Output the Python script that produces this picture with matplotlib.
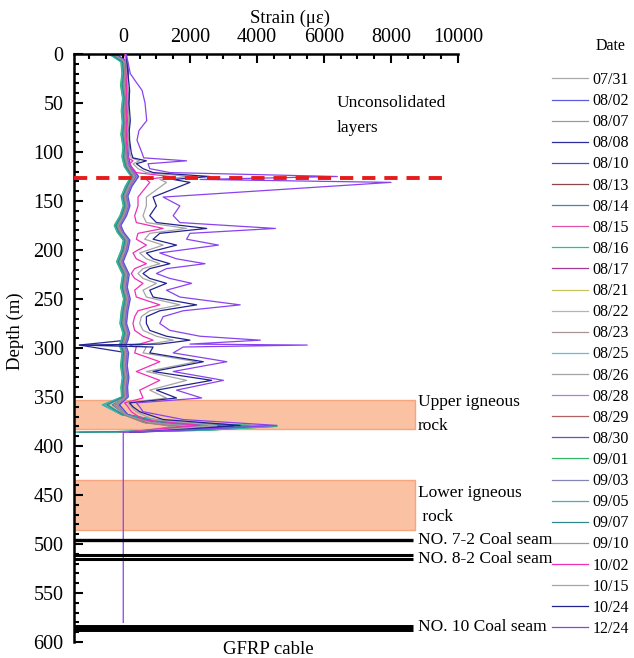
import matplotlib.pyplot as plt
from matplotlib.ticker import MultipleLocator

plt.rcParams['font.family'] = ['Liberation Serif', 'DejaVu Serif']

DATES = ['07/31', '08/02', '08/07', '08/08', '08/10', '08/13', '08/14', '08/15',
         '08/16', '08/17', '08/21', '08/22', '08/23', '08/25', '08/26', '08/28',
         '08/29', '08/30', '09/01', '09/03', '09/05', '09/07', '09/10', '10/02',
         '10/15', '10/24', '12/24']

COLORS = ['#a9a9a9', '#5a5ae6', '#9b9b9b', '#2a2a98', '#4848ee', '#8c4848', '#4f80b0',
          '#e052a8', '#25c878', '#a53898', '#c5c55a', '#b5b5b5', '#a99393', '#5cc0dc',
          '#a3a3a3', '#b57ae8', '#b36060', '#5555d0', '#30b868', '#8585b5', '#40b0c0',
          '#2f8a90', '#999999', '#ee2fb8', '#a5a5a5', '#22228e', '#8a42ee']

# depth grid (m) for the early, small-strain readings
DEPTH_B = [0, 8, 20, 32, 45, 58, 70, 82, 95, 105, 115, 125, 135, 145, 155, 165, 175, 182,
           190, 200, 212, 225, 238, 250, 262, 275, 285, 292, 297, 305, 318, 330, 340, 350,
           358, 368, 376, 380, 384, 386]

S_0731 = [-380, 50, 80, 40, 100, 60, 90, 50, 110, 80, 150, 330, 180, 60, 120, 20, -150, -60, 120, 60, -80, 100, 40, 130, 60, 20, 110, 60, 0, 80, 40, 90, 50, 70, -200, 60, 700, 1600, 900, -200]
S_0802 = [-300, 80, 110, 70, 130, 90, 120, 80, 140, 110, 180, 380, 210, 90, 150, 50, -120, -30, 150, 90, -50, 130, 70, 160, 90, 50, 140, 90, 30, 110, 70, 120, 80, 100, -220, 90, 900, 2200, 1300, 100]
S_0807 = [-250, 10, 40, 0, 60, 20, 50, 10, 70, 40, 110, 300, 140, 20, 80, -20, -190, -100, 80, 20, -120, 60, 0, 90, 20, -20, 70, 20, -40, 40, 0, 50, 10, 30, -280, 20, 600, 1500, 700, 0]
S_0808 = [-200, 110, 140, 100, 160, 120, 150, 110, 170, 140, 210, 450, 240, 120, 180, 80, -90, 0, 180, 120, -20, 160, 100, 190, 120, 80, 170, 120, -1300, 140, 100, 150, 110, 130, -120, 120, 1200, 3000, 1800, 200]
S_0810 = [-320, 90, 120, 80, 140, 100, 130, 90, 150, 120, 190, 400, 220, 100, 160, 60, -110, -20, 160, 100, -40, 140, 80, 170, 100, 60, 150, 100, 40, 120, 80, 130, 90, 110, -200, 100, 1000, 2600, 1500, 150]
S_0813 = [-280, 20, 50, 10, 70, 30, 60, 20, 80, 50, 120, 310, 150, 30, 90, -10, -180, -90, 90, 30, -110, 70, 10, 100, 30, -10, 80, 30, -30, 50, 10, 60, 20, 40, -240, 30, 650, 1700, 800, -100]
S_0814 = [-330, 60, 90, 50, 110, 70, 100, 60, 120, 90, 160, 360, 190, 70, 130, 30, -140, -50, 130, 70, -70, 110, 50, 140, 70, 30, 120, 70, 10, 90, 50, 100, 60, 80, -320, 70, 800, 2000, 1100, -500]
S_0815 = [-260, 70, 100, 60, 120, 80, 110, 70, 130, 100, 170, 370, 200, 80, 140, 40, -130, -40, 140, 80, -60, 120, 60, 150, 80, 40, 130, 80, 20, 100, 60, 110, 70, 90, -180, 80, 850, 2100, 1200, 50]
S_0816 = [-400, -30, 0, -40, 20, -20, 10, -30, 30, 0, 70, 270, 100, -20, 40, -60, -230, -140, 40, -20, -160, 20, -40, 50, -20, -60, 30, -20, -80, 0, -40, 10, -30, -10, -450, -20, 1500, 4600, 2400, -1450]
S_0817 = [-290, 60, 90, 50, 110, 70, 100, 60, 120, 90, 160, 350, 190, 70, 130, 30, -140, -50, 130, 70, -70, 110, 50, 140, 70, 30, 120, 70, 10, 90, 50, 100, 60, 80, -200, 70, 750, 1900, 1000, 0]
S_0821 = [-310, 40, 70, 30, 90, 50, 80, 40, 100, 70, 140, 330, 170, 50, 110, 10, -160, -70, 110, 50, -90, 90, 30, 120, 50, 10, 100, 50, -10, 70, 30, 80, 40, 60, -230, 50, 700, 1800, 900, -100]
S_0822 = [-270, 50, 80, 40, 100, 60, 90, 50, 110, 80, 150, 340, 180, 60, 120, 20, -150, -60, 120, 60, -80, 100, 40, 130, 60, 20, 110, 60, 0, 80, 40, 90, 50, 70, -210, 60, 750, 1900, 1000, 0]
S_0823 = [-240, 0, 30, -10, 50, 10, 40, 0, 60, 30, 100, 290, 130, 10, 70, -30, -200, -110, 70, 10, -130, 50, -10, 80, 10, -30, 60, 10, -50, 30, -10, 40, 0, 20, -260, 10, 650, 1600, 800, -50]
S_0825 = [-420, -50, -20, -60, 0, -40, -10, -50, 10, -20, 50, 250, 80, -40, 20, -80, -250, -160, 20, -40, -180, 0, -60, 30, -40, -80, 10, -40, -100, -20, -60, -10, -50, -30, -550, -40, 1400, 4200, 2200, -1400]
S_0826 = [-300, 30, 60, 20, 80, 40, 70, 30, 90, 60, 130, 320, 160, 40, 100, 0, -170, -80, 100, 40, -100, 80, 20, 110, 40, 0, 90, 40, -20, 60, 20, 70, 30, 50, -220, 40, 700, 1800, 900, -100]
S_0828 = [-220, 120, 150, 110, 170, 130, 160, 120, 180, 150, 220, 430, 250, 130, 190, 90, -80, 10, 190, 130, -10, 170, 110, 200, 130, 90, 180, 130, 70, 150, 110, 160, 120, 140, -150, 130, 1100, 2800, 1600, 150]
S_0829 = [-260, 40, 70, 30, 90, 50, 80, 40, 100, 70, 140, 340, 170, 50, 110, 10, -160, -70, 110, 50, -90, 90, 30, 120, 50, 10, 100, 50, -10, 70, 30, 80, 40, 60, -220, 50, 700, 1800, 900, -100]
S_0830 = [-230, 140, 170, 130, 190, 150, 180, 140, 200, 170, 240, 470, 270, 150, 210, 110, -60, 30, 210, 150, 10, 190, 130, 220, 150, 110, 200, 150, 90, 170, 130, 180, 140, 160, -100, 150, 1300, 3300, 1900, 250]
S_0901 = [-410, -60, -30, -70, -10, -50, -20, -60, 0, -30, 40, 240, 70, -50, 10, -90, -260, -170, 10, -50, -190, -10, -70, 20, -50, -90, 0, -50, -110, -30, -70, -20, -60, -40, -600, -50, 1600, 4500, 2500, -1450]
S_0903 = [-280, 70, 100, 60, 120, 80, 110, 70, 130, 100, 170, 360, 200, 80, 140, 40, -130, -40, 140, 80, -60, 120, 60, 150, 80, 40, 130, 80, 20, 100, 60, 110, 70, 90, -170, 80, 850, 2200, 1200, 50]
S_0905 = [-390, -40, -10, -50, 10, -30, 0, -40, 20, -10, 60, 260, 90, -30, 30, -70, -240, -150, 30, -30, -170, 10, -50, 40, -30, -70, 20, -30, -90, -10, -50, 0, -40, -20, -620, -30, 1450, 4400, 2300, -1400]
S_0907 = [-350, -10, 20, -20, 40, 0, 30, -10, 50, 20, 90, 280, 120, 0, 60, -40, -210, -120, 60, 0, -140, 40, -20, 70, 0, -40, 50, 0, -60, 20, -20, 30, -10, 10, -480, 0, 1200, 3800, 2000, -1300]
S_0910 = [-270, 50, 80, 40, 100, 60, 90, 50, 110, 80, 150, 340, 180, 60, 120, 20, -150, -60, 120, 60, -80, 100, 40, 130, 60, 20, 110, 60, 0, 80, 40, 90, 50, 70, -210, 60, 800, 2000, 1100, 0]

# finer depth grid for the later readings with large peaks
DEPTH_M = [0, 5, 20, 27, 37, 50, 68, 78, 88, 101, 106, 109, 112, 117, 121, 125, 128,
           131, 146, 155, 165, 172, 178, 183, 189, 195, 203, 209, 214, 219, 224, 229,
           234, 241, 248, 256, 262, 268, 275, 282, 288, 292, 296, 297, 299, 305, 314,
           324, 333, 343, 351, 356, 360, 365, 373, 379, 383, 386]

S_1002 = [60, 70, 100, 100, 110, 90, 110, 100, 100, 130, 150, 300, 200, 300, 400,
          1400, 700, 800, 450, 450, 350, 400, 1200, 450, 400, 700, 300, 400, 700, 350,
          250, 350, 600, 350, 400, 1100, 450, 350, 300, 350, 600, 900, 500, 200, 400,
          350, 1100, 400, 1100, 500, 600, 50, 150, 250, 600, 2300, 900, 50]
S_1015 = [80, 90, 130, 140, 150, 150, 170, 150, 160, 200, 250, 500, 300, 450, 700,
          2000, 1100, 1300, 700, 700, 600, 700, 1900, 800, 650, 1200, 500, 700, 1100, 600,
          450, 600, 1000, 600, 700, 1700, 800, 550, 500, 600, 1000, 1500, 800, 300, 700,
          600, 2200, 700, 1900, 800, 1300, 150, 250, 400, 900, 2800, 1400, 100]
S_1024 = [100, 110, 150, 170, 200, 180, 220, 190, 200, 250, 300, 700, 400, 600, 900,
          2600, 1500, 2000, 900, 1000, 800, 1000, 2500, 1100, 900, 1600, 700, 900, 1400, 800,
          600, 800, 1300, 800, 900, 2200, 1100, 700, 700, 800, 1300, 2000, 1100, -1300, 900,
          800, 2400, 900, 2650, 1000, 1600, 200, 300, 500, 1200, 3500, 1800, 200]
# the last reading also runs down the bare cable to 580 m
DEPTH_1224 = DEPTH_M + [580]
S_1224 = [100, 130, 220, 360, 570, 660, 710, 480, 420, 570, 620, 1900, 750, 800, 1400,
          6400, 2300, 8000, 1200, 1700, 1500, 1700, 4550, 2000, 1900, 2850, 1100, 1600, 2450, 1300,
          1000, 1400, 2050, 1300, 1700, 3500, 1800, 1200, 1100, 1400, 2300, 4100, 2000, 5500, 1800,
          1500, 3100, 1500, 3000, 1600, 2350, 400, 500, 600, 1800, 4600, 2300, 10, 10]

BASE_SERIES = [S_0731, S_0802, S_0807, S_0808, S_0810, S_0813, S_0814, S_0815, S_0816,
               S_0817, S_0821, S_0822, S_0823, S_0825, S_0826, S_0828, S_0829, S_0830,
               S_0901, S_0903, S_0905, S_0907, S_0910]

# strata (m)
UPPER_IGNEOUS = (353, 383)
LOWER_IGNEOUS = (435, 486)
SEAM_72 = [496]
SEAM_82 = [511.5, 515.5]
SEAM_10 = [585.5]
FAILURE_DEPTH = 127

XMIN = -1460
FIG_W, FIG_H = 634, 658


def px_x(x):
    return x / FIG_W


def px_y(y):
    return 1 - y / FIG_H


fig = plt.figure(figsize=(FIG_W / 100, FIG_H / 100), dpi=100)
ax = fig.add_axes([px_x(74), px_y(642), (458 - 74) / FIG_W, (642 - 54) / FIG_H])

band_right = 8720
for top, bottom in (UPPER_IGNEOUS, LOWER_IGNEOUS):
    ax.fill_between([XMIN, band_right], top, bottom, facecolor='#fbc1a3',
                    edgecolor='#f6a57f', linewidth=1.0, zorder=1)

for idx, values in enumerate(BASE_SERIES):
    ax.plot(values, DEPTH_B, color=COLORS[idx], linewidth=0.9, label=DATES[idx], zorder=2)
ax.plot(S_1002, DEPTH_M, color=COLORS[23], linewidth=0.9, label=DATES[23], zorder=3)
ax.plot(S_1015, DEPTH_M, color=COLORS[24], linewidth=0.9, label=DATES[24], zorder=3)
ax.plot(S_1024, DEPTH_M, color=COLORS[25], linewidth=0.9, label=DATES[25], zorder=3)
ax.plot(S_1224, DEPTH_1224, color=COLORS[26], linewidth=0.9, label=DATES[26], zorder=3)

ax.plot([XMIN, 9670], [FAILURE_DEPTH] * 2, color='#e61c1c', linewidth=2.8,
        dashes=(3.4, 2.3), zorder=4)

seam_right = 8660
ax.hlines(SEAM_72, XMIN, seam_right, color='black', linewidth=2.4, zorder=4)
ax.hlines(SEAM_82, XMIN, seam_right, color='black', linewidth=2.2, zorder=4)
ax.hlines(SEAM_10, XMIN, seam_right, color='black', linewidth=5.0, zorder=4)

ax.set_xlim(XMIN, 10000)
ax.set_ylim(600, 0)
ax.spines['right'].set_visible(False)
ax.spines['bottom'].set_visible(False)
ax.spines['left'].set_linewidth(1.8)
ax.spines['top'].set_linewidth(1.8)
ax.xaxis.tick_top()
ax.xaxis.set_major_locator(MultipleLocator(2000))
ax.xaxis.set_minor_locator(MultipleLocator(500))
ax.yaxis.set_major_locator(MultipleLocator(50))
ax.yaxis.set_minor_locator(MultipleLocator(10))
ax.tick_params(which='both', direction='in', width=1.5, labelsize=14.5)
ax.tick_params(which='major', length=6.5)
ax.tick_params(which='minor', length=3.6)
ax.tick_params(axis='x', pad=5)
ax.tick_params(axis='y', pad=7.5)

fig.text(px_x(290), px_y(18), 'Strain (με)', ha='center', va='center', fontsize=13.5)
fig.text(px_x(15), px_y(331), 'Depth (m)', ha='center', va='center', fontsize=13.5,
         rotation=90)
fig.text(px_x(268), px_y(650), 'GFRP cable', ha='center', va='center', fontsize=13.5)

note = dict(fontsize=12.5, va='center', ha='left', clip_on=False)
ax.text(6390, 50.5, 'Unconsolidated', **note)
ax.text(6390, 76, 'layers', **note)
ax.text(8800, 355, 'Upper igneous', **note)
ax.text(8800, 380, 'rock', **note)
ax.text(8800, 448, 'Lower igneous', **note)
ax.text(8800, 472, ' rock', **note)
ax.text(8800, 495.5, 'NO. 7-2 Coal seam', **note)
ax.text(8800, 515, 'NO. 8-2 Coal seam', **note)
ax.text(8800, 585, 'NO. 10 Coal seam', **note)

fig.text(px_x(611), px_y(46), 'Date', ha='center', va='center', fontsize=11.5)
fig.legend(loc='upper left', bbox_to_anchor=(px_x(552), px_y(72)), frameon=False,
           fontsize=11.5, handlelength=2.25, handletextpad=0.3, labelspacing=0.32,
           borderpad=0, borderaxespad=0)

fig.savefig('out.png', dpi=100)
